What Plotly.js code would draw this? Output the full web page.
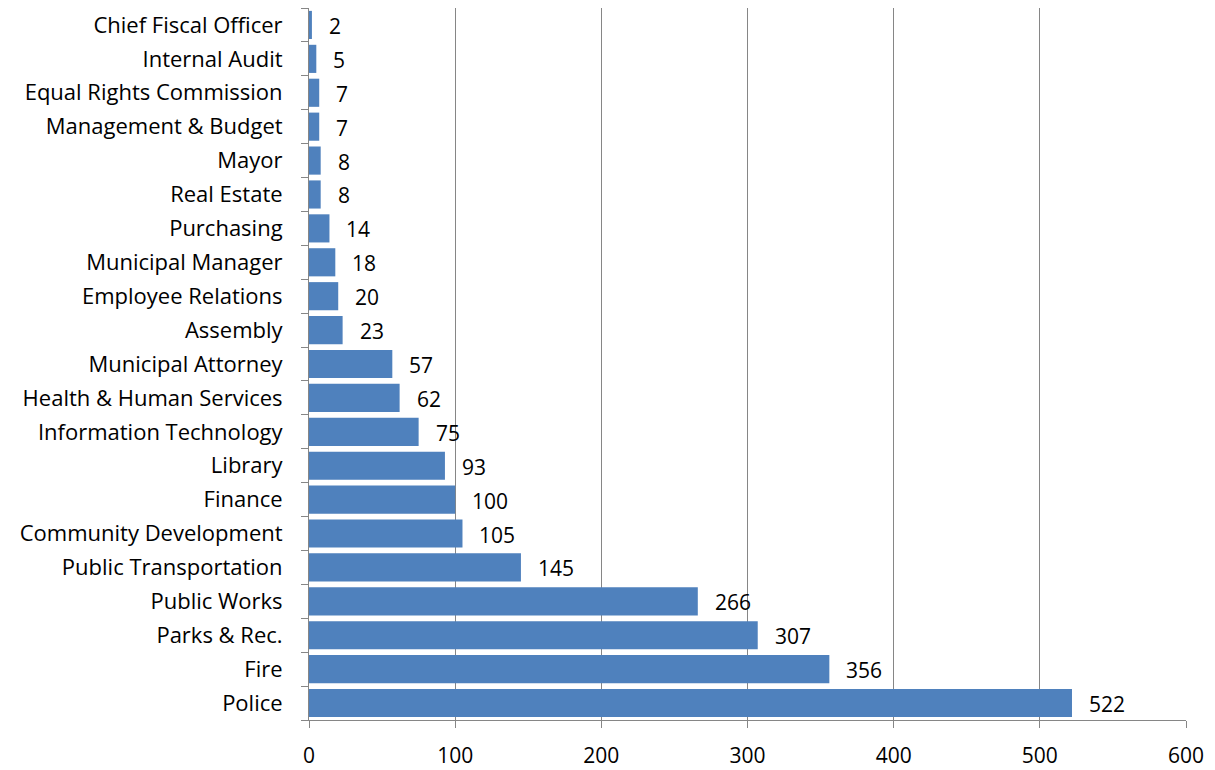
<!DOCTYPE html>
<html><head><meta charset="utf-8">
<script src="https://cdn.plot.ly/plotly-3.0.1.min.js"></script>
<style>body{margin:0;}#chart{width:1215px;height:770px;}</style>
</head><body><div id="chart"></div>
<script>
var departments = ["Police","Fire","Parks & Rec.","Public Works","Public Transportation","Community Development","Finance","Library","Information Technology","Health & Human Services","Municipal Attorney","Assembly","Employee Relations","Municipal Manager","Purchasing","Real Estate","Mayor","Management & Budget","Equal Rights Commission","Internal Audit","Chief Fiscal Officer"];
var counts = [522,356,307,266,145,105,100,93,75,62,57,23,20,18,14,8,8,7,7,5,2];
var xTicks = [0,100,200,300,400,500,600];

var catFont = {family: "Open Sans, sans-serif", size: 22, color: "#000"};
var numFont = {family: "Open Sans, sans-serif", size: 21, color: "#000"};
var bars = {
  type: "bar", orientation: "h", x: counts, y: departments,
  marker: {color: "#4f81bd"}, hoverinfo: "x+y"
};
var annotations = counts.map(function (v, i) {
  return {x: v, y: departments[i], xref: "x", yref: "y", text: String(v),
    showarrow: false, xanchor: "left", yanchor: "middle", xshift: 15, yshift: -1,
    font: numFont};
});
var layout = {
  width: 1215, height: 770,
  margin: {l: 309, r: 29, t: 8, b: 50},
  showlegend: false, bargap: 0.17,
  plot_bgcolor: "#fff", paper_bgcolor: "#fff",
  font: numFont, annotations: annotations,
  xaxis: {
    range: [0, 600], tickvals: xTicks, ticktext: xTicks.map(String),
    showgrid: true, gridcolor: "#868686", gridwidth: 1,
    showline: true, linecolor: "#868686", linewidth: 1,
    ticks: "outside", ticklen: 7, tickcolor: "#868686",
    zeroline: false, tickfont: numFont, ticklabelstandoff: 10
  },
  yaxis: {
    categoryorder: "array", categoryarray: departments, range: [-0.5, departments.length - 0.5],
    showline: true, linecolor: "#868686", linewidth: 1,
    ticks: "outside", ticklen: 7, tickcolor: "#868686", tickson: "boundaries",
    showgrid: false, zeroline: false, tickfont: catFont, ticklabelstandoff: 21
  }
};
Plotly.newPlot("chart", [bars], layout, {displayModeBar: false, staticPlot: true});
</script></body></html>
